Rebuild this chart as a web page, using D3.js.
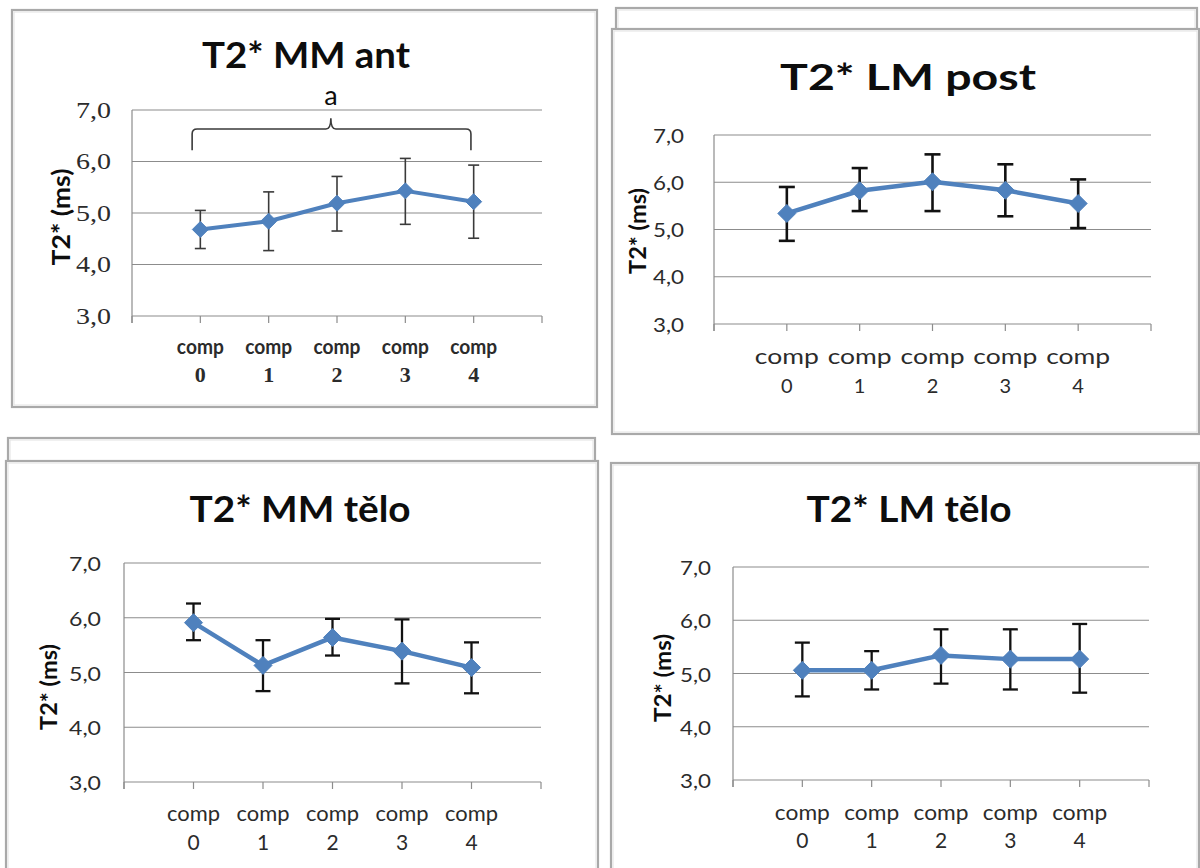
<!DOCTYPE html>
<html>
<head>
<meta charset="utf-8">
<script src="https://cdn.jsdelivr.net/npm/d3@7"></script>
<style>
  html, body { margin: 0; padding: 0; background: #fff; }
  svg { display: block; }
</style>
</head>
<body>
<svg id="chart" width="1200" height="868"></svg>
<script>
// ---------------- DATA ----------------
const categories = ["comp 0", "comp 1", "comp 2", "comp 3", "comp 4"];
const yTicks = [3, 4, 5, 6, 7];
const yLabel = "T2* (ms)";

const titles = ["T2* MM ant", "T2* LM post", "T2* MM tělo", "T2* LM tělo"];

const mmAntMean  = [4.68, 4.84, 5.19, 5.43, 5.22];
const mmAntUpper = [5.05, 5.41, 5.71, 6.06, 5.93];
const mmAntLower = [4.31, 4.27, 4.65, 4.78, 4.51];

const lmPostMean  = [5.34, 5.82, 6.01, 5.83, 5.55];
const lmPostUpper = [5.90, 6.30, 6.59, 6.38, 6.06];
const lmPostLower = [4.76, 5.39, 5.39, 5.28, 5.03];

const mmTeloMean  = [5.91, 5.13, 5.64, 5.39, 5.09];
const mmTeloUpper = [6.26, 5.59, 5.98, 5.97, 5.55];
const mmTeloLower = [5.59, 4.66, 5.31, 4.80, 4.62];

const lmTeloMean  = [5.06, 5.06, 5.34, 5.27, 5.27];
const lmTeloUpper = [5.58, 5.42, 5.83, 5.83, 5.93];
const lmTeloLower = [4.57, 4.70, 4.81, 4.70, 4.64];

// significance bracket in panel 1 (category units / value units)
const bracketLabel = "a";
const bracketFrom = -0.12, bracketTo = 3.96, bracketTip = 1.91;

// ---------------- LAYOUT ----------------
const SANS = "Lato, 'Open Sans', sans-serif";
const SERIF = "'Liberation Serif', 'DejaVu Serif', serif";
const BLUE = "#4F81BD";

const panels = [
  { mean: mmAntMean, upper: mmAntUpper, lower: mmAntLower, title: titles[0],
    frames: [[12, 10, 585, 397]],
    plot: {l: 132, r: 542, t: 110, b: 316},
    titleX: 306, titleY: 68, titleW: 208, titleSize: 36,
    ylabX: 60, ylabY: 217, ylabW: 97, ylabSize: 24,
    tickGap: 21, tickFont: SERIF, tickW: 35, tickSize: 23, tickWeight: 400,
    xl1Y: 354, xl2Y: 382, xlSize: 20, xl1W: 47, xlWeight: 700, xl2Font: SERIF, xl2Size: 22,
    ebW: 1.6, ebCap: 11, ebColor: "#3a3a3a", lineW: 4, mk: 8, bracket: true },
  { mean: lmPostMean, upper: lmPostUpper, lower: lmPostLower, title: titles[1],
    frames: [[616, 8, 581, 60], [612, 29, 587, 405]],
    plot: {l: 714, r: 1151, t: 135, b: 324},
    titleX: 908, titleY: 90, titleW: 256, titleSize: 36,
    ylabX: 637, ylabY: 231, ylabW: 86, ylabSize: 23,
    tickGap: 30, tickFont: SANS, tickW: 31, tickSize: 19, tickWeight: 400,
    xl1Y: 364, xl2Y: 393, xlSize: 21, xl1W: 64, xlWeight: 400, xl2Font: SANS, xl2Size: 20,
    ebW: 2.6, ebCap: 16, ebColor: "#111", lineW: 4.5, mk: 9, bracket: false },
  { mean: mmTeloMean, upper: mmTeloUpper, lower: mmTeloLower, title: titles[2],
    frames: [[8, 438, 587, 60], [6, 461, 592, 420]],
    plot: {l: 124, r: 541, t: 563, b: 782},
    titleX: 300, titleY: 522, titleW: 221, titleSize: 36,
    ylabX: 48, ylabY: 687, ylabW: 86, ylabSize: 23,
    tickGap: 23, tickFont: SANS, tickW: 32, tickSize: 20, tickWeight: 400,
    xl1Y: 821, xl2Y: 850, xlSize: 22, xl1W: 53, xlWeight: 400, xl2Font: SANS, xl2Size: 21,
    ebW: 2.3, ebCap: 15, ebColor: "#111", lineW: 4.5, mk: 9, bracket: false },
  { mean: lmTeloMean, upper: lmTeloUpper, lower: lmTeloLower, title: titles[3],
    frames: [[611, 463, 588, 420]],
    plot: {l: 733, r: 1149, t: 567, b: 780},
    titleX: 909, titleY: 522, titleW: 205, titleSize: 36,
    ylabX: 662, ylabY: 678, ylabW: 88, ylabSize: 23,
    tickGap: 22, tickFont: SANS, tickW: 31, tickSize: 20, tickWeight: 400,
    xl1Y: 820, xl2Y: 848, xlSize: 22, xl1W: 55, xlWeight: 400, xl2Font: SANS, xl2Size: 21,
    ebW: 2.3, ebCap: 15, ebColor: "#111", lineW: 4.5, mk: 9, bracket: false }
];

const svg = d3.select("#chart");
const fmt = v => d3.format(".1f")(v).replace(".", ",");

function txt(g, s, x, y, o) {
  const t = g.append("text")
    .attr("transform", `translate(${x},${y})` + (o.rot ? ` rotate(${o.rot})` : ""))
    .attr("text-anchor", o.anchor || "middle")
    .attr("font-family", o.family || SANS)
    .attr("font-size", o.size)
    .attr("font-weight", o.weight || 400)
    .attr("fill", o.fill || "#000")
    .text(s);
  if (o.baseline) t.attr("dominant-baseline", o.baseline);
  if (o.len) t.attr("textLength", o.len).attr("lengthAdjust", "spacingAndGlyphs");
  return t;
}

panels.forEach(p => {
  const g = svg.append("g");

  // frames (chart-area borders)
  p.frames.forEach(f => {
    g.append("rect").attr("x", f[0]).attr("y", f[1]).attr("width", f[2]).attr("height", f[3])
      .attr("fill", "#fff").attr("stroke", "#a9a9a9").attr("stroke-width", 2.2);
    g.append("rect").attr("x", f[0] + 2).attr("y", f[1] + 2).attr("width", f[2] - 4).attr("height", f[3] - 4)
      .attr("fill", "none").attr("stroke", "#e2e2e2").attr("stroke-width", 1);
  });

  const x = d3.scaleLinear().domain([-1, categories.length]).range([p.plot.l, p.plot.r]);
  const y = d3.scaleLinear().domain([d3.min(yTicks), d3.max(yTicks)]).range([p.plot.b, p.plot.t]);

  // gridlines
  g.selectAll(".grid").data(yTicks).enter().append("line")
    .attr("x1", p.plot.l).attr("x2", p.plot.r)
    .attr("y1", d => y(d)).attr("y2", d => y(d))
    .attr("stroke", "#8c8c8c").attr("stroke-width", 1.2);

  // y axis line
  g.append("line").attr("x1", p.plot.l).attr("x2", p.plot.l)
    .attr("y1", p.plot.t).attr("y2", p.plot.b + 7)
    .attr("stroke", "#8c8c8c").attr("stroke-width", 1.2);

  // x ticks
  g.selectAll(".xt").data(d3.range(-1, categories.length + 1)).enter().append("line")
    .attr("x1", d => x(d)).attr("x2", d => x(d))
    .attr("y1", p.plot.b).attr("y2", p.plot.b + 7)
    .attr("stroke", "#8c8c8c").attr("stroke-width", 1.2);

  // y tick labels
  yTicks.forEach(v => {
    txt(g, fmt(v), p.plot.l - p.tickGap, y(v), {
      anchor: "end", family: p.tickFont, size: p.tickSize, len: p.tickW,
      weight: p.tickWeight, fill: "#2b2b2b", baseline: "central"
    });
  });

  // x category labels (two lines)
  categories.forEach((c, i) => {
    const parts = c.split(" ");
    txt(g, parts[0], x(i), p.xl1Y, { family: SANS, size: p.xlSize, len: p.xl1W, weight: p.xlWeight, fill: "#2b2b2b" });
    txt(g, parts[1], x(i), p.xl2Y, { family: p.xl2Font, size: p.xl2Size, weight: p.xlWeight, fill: "#2b2b2b" });
  });

  // title
  txt(g, p.title, p.titleX, p.titleY, { size: p.titleSize, weight: 700, len: p.titleW, fill: "#0d0d0d" });

  // y axis label
  txt(g, yLabel, p.ylabX, p.ylabY, { size: p.ylabSize, weight: 700, rot: -90, len: p.ylabW, baseline: "central", fill: "#0d0d0d" });

  const idx = d3.range(categories.length);

  // error bars
  const eb = g.append("g").attr("stroke", p.ebColor).attr("stroke-width", p.ebW);
  idx.forEach(i => {
    eb.append("line").attr("x1", x(i)).attr("x2", x(i)).attr("y1", y(p.upper[i])).attr("y2", y(p.lower[i]));
    eb.append("line").attr("x1", x(i) - p.ebCap / 2).attr("x2", x(i) + p.ebCap / 2).attr("y1", y(p.upper[i])).attr("y2", y(p.upper[i]));
    eb.append("line").attr("x1", x(i) - p.ebCap / 2).attr("x2", x(i) + p.ebCap / 2).attr("y1", y(p.lower[i])).attr("y2", y(p.lower[i]));
  });

  // line
  g.append("path").datum(idx)
    .attr("d", d3.line().x(i => x(i)).y(i => y(p.mean[i])))
    .attr("fill", "none").attr("stroke", BLUE).attr("stroke-width", p.lineW).attr("stroke-linejoin", "round");

  // diamond markers
  g.selectAll(".mk").data(idx).enter().append("path")
    .attr("d", i => {
      const cx = x(i), cy = y(p.mean[i]), s = p.mk;
      return `M${cx},${cy - s}L${cx + s},${cy}L${cx},${cy + s}L${cx - s},${cy}Z`;
    })
    .attr("fill", BLUE).attr("stroke", BLUE).attr("stroke-width", 1);

  // significance bracket (panel 1)
  if (p.bracket) {
    const yH = y(6.63), yEnd = y(6.22), yTip = y(6.84), r = 5;
    const xl = x(bracketFrom), xr = x(bracketTo), xc = x(bracketTip);
    const d = `M${xl},${yEnd} L${xl},${yH + r} Q${xl},${yH} ${xl + r},${yH} L${xc - r},${yH} Q${xc},${yH} ${xc},${yTip}` +
              ` Q${xc},${yH} ${xc + r},${yH} L${xr - r},${yH} Q${xr},${yH} ${xr},${yH + r} L${xr},${yEnd}`;
    g.append("path").attr("d", d).attr("fill", "none").attr("stroke", "#3a3a3a").attr("stroke-width", 1.6);
    txt(g, bracketLabel, xc, y(7.1), { size: 27, weight: 400, fill: "#0d0d0d" });
  }
});
</script>
</body>
</html>
